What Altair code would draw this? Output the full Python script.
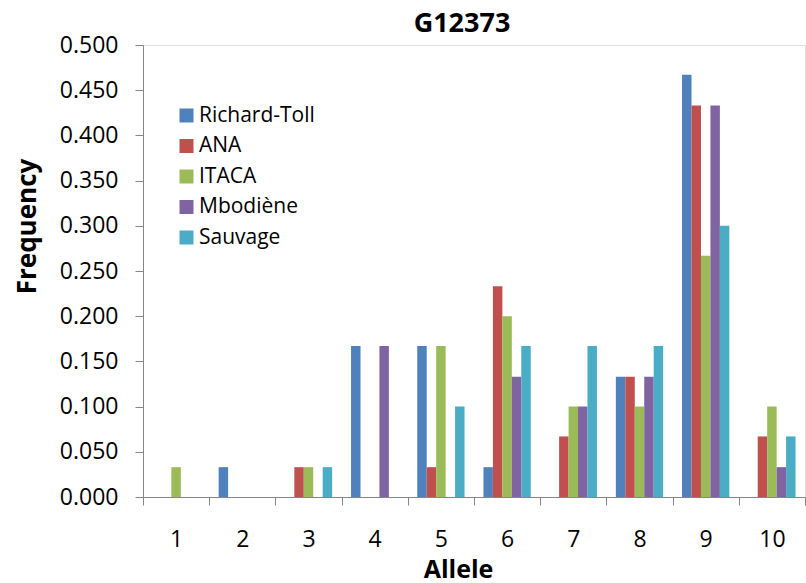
import altair as alt
import pandas as pd

alleles = ["1", "2", "3", "4", "5", "6", "7", "8", "9", "10"]
series = ["Richard-Toll", "ANA", "ITACA", "Mbodiène", "Sauvage"]
richard_toll = [0, 0.033, 0, 0.167, 0.167, 0.033, 0, 0.133, 0.467, 0]
ana = [0, 0, 0.033, 0, 0.033, 0.233, 0.067, 0.133, 0.433, 0.067]
itaca = [0.033, 0, 0.033, 0, 0.167, 0.200, 0.100, 0.100, 0.267, 0.100]
mbodiene = [0, 0, 0, 0.167, 0, 0.133, 0.100, 0.133, 0.433, 0.033]
sauvage = [0, 0, 0.033, 0, 0.100, 0.167, 0.167, 0.167, 0.300, 0.067]
colors = ["#4F81BD", "#C0504D", "#9BBB59", "#8064A2", "#4BACC6"]
y_ticks = [0.0, 0.05, 0.1, 0.15, 0.2, 0.25, 0.3, 0.35, 0.4, 0.45, 0.5]

rows = []
for name, vals in zip(series, [richard_toll, ana, itaca, mbodiene, sauvage]):
    for a, v in zip(alleles, vals):
        rows.append({"Allele": a, "Population": name, "Frequency": v})
df = pd.DataFrame(rows)

FONT = "Open Sans"
AXIS_GREY = "#868686"

chart = alt.Chart(df).mark_bar().encode(
    x=alt.X(
        "Allele:N",
        sort=alleles,
        scale=alt.Scale(paddingInner=0, paddingOuter=0),
        axis=alt.Axis(
            title="Allele",
            labelAngle=0,
            tickBand="extent",
            tickSize=8,
            tickColor=AXIS_GREY,
            domainColor=AXIS_GREY,
            labelFont=FONT,
            labelFontSize=23,
            labelColor="black",
            labelBaseline="alphabetic",
            labelPadding=41,
            titleFont=FONT,
            titleFontWeight="bold",
            titleFontSize=25,
            titleColor="black",
            titleX=315,
            titleY=80,
            titleBaseline="alphabetic",
            grid=False,
        ),
    ),
    xOffset=alt.XOffset(
        "Population:N",
        sort=series,
        scale=alt.Scale(domain=series, paddingInner=0, paddingOuter=1),
    ),
    y=alt.Y(
        "Frequency:Q",
        scale=alt.Scale(domain=[0, 0.5], nice=False),
        axis=alt.Axis(
            title="Frequency",
            values=y_ticks,
            format=".3f",
            tickSize=8,
            tickColor=AXIS_GREY,
            domainColor=AXIS_GREY,
            labelFont=FONT,
            labelFontSize=23,
            labelColor="black",
            labelPadding=17,
            titleFont=FONT,
            titleFontWeight="bold",
            titleFontSize=26,
            titleColor="black",
            titleAngle=270,
            titleX=-116,
            titleY=181,
            titleBaseline="middle",
            titleAlign="center",
            grid=False,
        ),
    ),
    color=alt.Color(
        "Population:N",
        sort=series,
        scale=alt.Scale(domain=series, range=colors),
        legend=alt.Legend(
            title=None,
            orient="none",
            legendX=33,
            legendY=60,
            padding=0,
            symbolType="square",
            symbolSize=196,
            symbolStrokeWidth=0,
            labelFont=FONT,
            labelFontSize=21,
            labelColor="black",
            labelOffset=2,
            rowPadding=8.5,
        ),
    ),
).properties(
    width=662,
    height=452,
    title=alt.TitleParams(
        text="G12373",
        font=FONT,
        fontSize=27,
        fontWeight="bold",
        color="black",
        anchor="middle",
        dx=-12,
        dy=25,
        baseline="alphabetic",
        offset=0,
    ),
    autosize=alt.AutoSizeParams(type="none"),
    padding={"left": 143, "top": 45, "right": 1, "bottom": 86},
).configure_view(stroke=None).configure(background="white")

chart.save("out.html", embed_options={"renderer": "svg", "actions": False})
